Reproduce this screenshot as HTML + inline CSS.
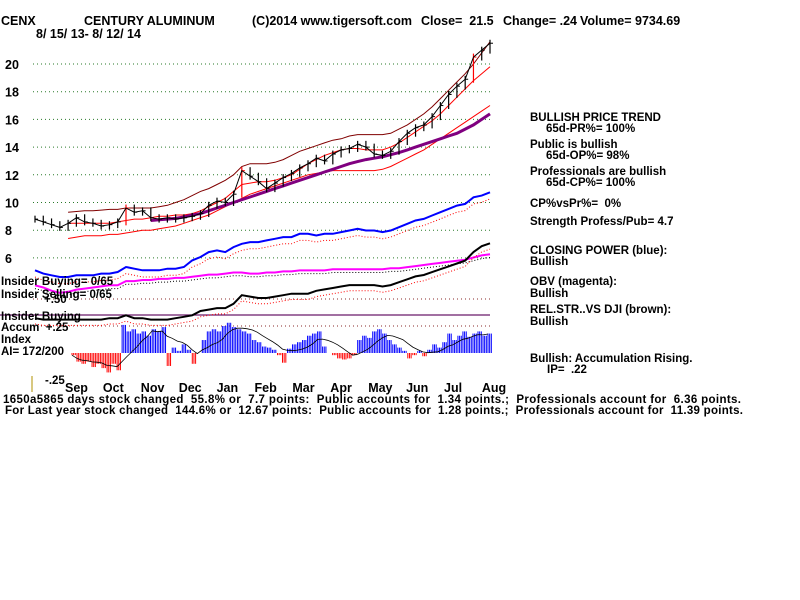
<!DOCTYPE html>
<html><head><meta charset="utf-8">
<style>
body{margin:0;background:#fff;}
svg{display:block;}
text{font-family:"Liberation Sans",sans-serif;font-weight:bold;font-size:11.5px;fill:#000;white-space:pre;}
</style></head>
<body>
<svg id="chart" width="800" height="600" viewBox="0 0 800 600" xmlns="http://www.w3.org/2000/svg" xml:space="preserve">
<rect width="800" height="600" fill="#fff"/>
<g>
<text x="1" y="25" style="font-size:12.5px">CENX</text>
<text x="84" y="25" style="font-size:12.5px">CENTURY ALUMINUM</text>
<text x="252" y="25" style="font-size:12.5px">(C)2014 www.tigersoft.com</text>
<text x="421" y="25" style="font-size:12.5px">Close=  21.5</text>
<text x="503" y="25" style="font-size:12.5px">Change= .24</text>
<text x="580" y="25" style="font-size:12.5px">Volume= 9734.69</text>
<text x="36" y="38" style="font-size:12.5px">8/ 15/ 13- 8/ 12/ 14</text>
</g>
<g id="grid"></g>
<g id="yticks"></g>
<g id="series"></g>
<g id="ai"></g>
<g id="months"></g>
<g>
<text x="1" y="285">Insider Buying= 0/65</text>
<text x="1" y="298">Insider Selling= 0/65</text>
<text x="44" y="303">+.50</text>
<text x="1" y="320">Insider Buying</text>
<text x="1" y="331">Accum  +.25</text>
<text x="1" y="343">Index</text>
<text x="1" y="355">AI= 172/200</text>
<text x="45" y="384">-.25</text>
<line x1="32" y1="376" x2="32" y2="392" stroke="#b09000"/>
</g>
<g>
<text x="530" y="121">BULLISH PRICE TREND</text>
<text x="546" y="132">65d-PR%= 100%</text>
<text x="530" y="148">Public is bullish</text>
<text x="546" y="159">65d-OP%= 98%</text>
<text x="530" y="175">Professionals are bullish</text>
<text x="546" y="186">65d-CP%= 100%</text>
<text x="530" y="207">CP%vsPr%=  0%</text>
<text x="530" y="225">Strength Profess/Pub= 4.7</text>
<text x="530" y="254">CLOSING POWER (blue):</text>
<text x="530" y="265">Bullish</text>
<text x="530" y="285">OBV (magenta):</text>
<text x="530" y="297">Bullish</text>
<text x="530" y="313">REL.STR..VS DJI (brown):</text>
<text x="530" y="325">Bullish</text>
<text x="530" y="362">Bullish: Accumulation Rising.</text>
<text x="547" y="373">IP=  .22</text>
</g>
<g>
<text x="3" y="403" textLength="738" lengthAdjust="spacing">1650a5865 days stock changed  55.8% or  7.7 points:  Public accounts for  1.34 points.;  Professionals account for  6.36 points.</text>
<text x="5" y="414" textLength="738" lengthAdjust="spacing">For Last year stock changed  144.6% or  12.67 points:  Public accounts for  1.28 points.;  Professionals account for  11.39 points.</text>
</g>
</svg>
<script>
const priceTicks=[20,18,16,14,12,10,8,6];
const months=["Sep","Oct","Nov","Dec","Jan","Feb","Mar","Apr","May","Jun","Jul","Aug"];
const closes=[8.8,8.6,8.4,8.2,8.5,8.9,8.6,8.5,8.3,8.4,8.6,9.6,9.3,9.4,8.9,8.8,8.9,8.8,8.9,9.0,9.2,9.8,10.1,10.0,10.6,12.3,11.9,11.5,11.0,11.4,11.8,12.1,12.5,12.8,13.2,13.0,13.5,13.8,13.9,14.2,14.0,13.5,13.4,13.7,14.4,15.0,15.4,15.6,16.2,17.0,17.8,18.4,18.9,20.5,21.0,21.5];
const upperBand=[null,null,null,null,9.3,9.35,9.4,9.4,9.45,9.5,9.5,9.6,9.6,9.6,9.6,9.7,9.8,10.0,10.2,10.5,10.8,11.0,11.3,11.6,12.0,12.6,12.8,12.8,12.8,12.9,13.1,13.4,13.7,13.9,14.1,14.3,14.5,14.6,14.8,14.9,14.9,14.9,14.9,15.0,15.3,15.6,16.0,16.4,16.9,17.5,18.1,18.7,19.3,20.0,20.8,21.6];
const midBand=[null,null,null,null,8.5,8.5,8.5,8.5,8.5,8.5,8.6,8.7,8.8,8.8,8.9,9.0,9.0,9.1,9.1,9.2,9.4,9.7,10.0,10.3,10.8,11.3,11.4,11.5,11.5,11.6,11.8,12.0,12.4,12.8,13.1,13.4,13.6,13.8,13.9,13.9,13.8,13.8,13.8,14.0,14.3,14.7,15.1,15.5,15.9,16.4,17.0,17.6,18.2,18.8,19.3,19.8];
const maLine=[null,null,null,null,null,null,null,null,null,null,null,null,null,null,8.7,8.75,8.8,8.85,8.95,9.1,9.2,9.4,9.6,9.8,10.0,10.2,10.4,10.6,10.8,11.0,11.2,11.4,11.6,11.8,12.0,12.2,12.4,12.6,12.8,12.95,13.1,13.2,13.3,13.45,13.6,13.8,14.0,14.2,14.4,14.6,14.8,15.0,15.3,15.6,16.0,16.4];
const lowerBand=[null,null,null,null,7.4,7.5,7.6,7.6,7.6,7.7,7.7,7.8,7.9,8.0,8.0,8.1,8.2,8.3,8.5,8.7,8.9,9.1,9.4,9.7,10.0,10.3,10.6,10.8,11.0,11.2,11.4,11.6,11.8,12.0,12.1,12.2,12.3,12.3,12.3,12.3,12.3,12.3,12.4,12.6,12.9,13.2,13.5,13.8,14.2,14.6,15.0,15.4,15.8,16.2,16.6,17.0];
const closingPower=[48,46,45,44,44,45,45,45,46,46,47,50,49,48,48,48,49,49,50,54,56,59,60,59,62,64,65,65,66,67,68,68,70,70,69,70,70,71,72,73,72,72,71,72,74,76,78,79,81,83,85,87,88,92,93,95];
const obv=[38,36,33,31,32,34,35,36,37,38,38,42,42,43,43,44,44,45,45,46,47,48,48,49,50,50,49,49,50,50,51,51,52,52,52,52,53,53,53,53,53,53,53,54,54,55,56,57,58,59,60,61,62,64,66,67];
const relStr=[20,19,19,19,19,19,19,19,19,20,20,22,20,20,19,19,19,20,21,22,25,26,27,27,30,36,35,34,34,35,36,37,37,37,39,40,41,42,43,43,43,43,42,43,45,47,49,50,52,54,56,58,60,66,70,72];
const aiValues=[-0.02,-0.08,-0.1,-0.08,-0.13,-0.1,-0.14,-0.18,-0.1,-0.16,0.26,0.2,0.22,0.18,0.2,0.16,0.22,0.2,0.24,-0.12,0.05,0.02,0.08,0.03,-0.1,0.0,0.12,0.2,0.22,0.2,0.25,0.28,0.24,0.22,0.2,0.18,0.12,0.1,0.06,0.05,0.03,-0.02,-0.09,0.04,0.08,0.1,0.12,0.16,0.18,0.2,0.06,0.0,-0.02,-0.05,-0.06,-0.05,-0.02,0.12,0.16,0.14,0.2,0.22,0.18,0.12,0.08,0.05,0.02,-0.05,-0.02,0.02,-0.03,0.03,0.08,0.05,0.1,0.18,0.12,0.16,0.2,0.15,0.18,0.2,0.16,0.18];

const NS='http://www.w3.org/2000/svg';
function mk(tag,attrs,parent){const e=document.createElementNS(NS,tag);for(const k in attrs)e.setAttribute(k,attrs[k]);parent.appendChild(e);return e;}
const X0=35,X1=490;
function xs(i,n){return X0+i*(X1-X0)/(n-1);}
function yPrice(v){return 64+(20-v)*13.85;}
function yInd(v,top,bot){return bot-(v/100)*(bot-top);}
const yCP=v=>yInd(v,184,350);
const yOBV=v=>yInd(v,219,326);
const yRS=v=>yInd(v,203,347);
const AI0=353,AIS=108;
function yAI(v){return AI0-v*AIS;}

const grid=document.getElementById('grid');
priceTicks.forEach(t=>{
  const l=mk('line',{x1:33,x2:490,y1:yPrice(t),y2:yPrice(t),stroke:'#2a7a2a','stroke-dasharray':'1,3','stroke-width':1},grid);
  
  
});
[yAI(0.5),yAI(0.25)].forEach(y=>{
  const l=mk('line',{x1:33,x2:490,y1:y,y2:y,stroke:'#8a2a2a','stroke-dasharray':'1,3'},grid);
  
  
});
const yt=document.getElementById('yticks');
priceTicks.forEach(t=>{
  const e=mk('text',{x:5,y:yPrice(t)+5,style:'font-size:12.5px'},yt);e.textContent=t;
  
  
});
const mg=document.getElementById('months');
months.forEach((m,i)=>{
  const e=mk('text',{x:65+i*37.9,y:392,style:'font-size:12.5px'},mg);e.textContent=m;
  
  
});

const sg=document.getElementById('series');
const hl=mk('line',{x1:0,x2:490,y1:315,y2:315,stroke:'#6a1a6a','stroke-width':1.2},sg);



function path(arr,yf,color,w,name,dash){
  let d='';let started=false;
  arr.forEach((v,i)=>{if(v==null)return;d+=(started?'L':'M')+xs(i,arr.length).toFixed(1)+','+yf(v).toFixed(1);started=true;});
  const p=mk('path',{d:d,fill:'none',stroke:color,'stroke-width':w},sg);
  if(dash)p.setAttribute('stroke-dasharray',dash);
  
  
  return p;
}
path(upperBand,yPrice,'#800000',1,'upper-band');
path(midBand,yPrice,'#ff0000',1,'middle-band');
path(lowerBand,yPrice,'#ff0000',1,'lower-band');
path(maLine,yPrice,'#800080',3,'moving-average');
closes.forEach((c,i)=>{
  const x=xs(i,closes.length);
  const prev=i>0?closes[i-1]:c;
  const hi=Math.max(c,prev)+0.25,lo=Math.min(c,prev)-0.25;
  const big=Math.abs(c-prev)>0.9;
  const b=mk('line',{x1:x,x2:x,y1:yPrice(hi),y2:yPrice(lo),stroke:big?'#ff0000':'#000','stroke-width':1.2},sg);
  
  
  const t=mk('line',{x1:x,x2:x+3,y1:yPrice(c),y2:yPrice(c),stroke:big?'#ff0000':'#000','stroke-width':1},sg);
  
  
});
path(closes,yPrice,'#000',1,'price-line');
path(closingPower.map(v=>v-4),yCP,'#ff0000',1,'closing-power-trend','1,2');
path(closingPower,yCP,'#0000ff',2,'closing-power-line');
path(obv.map(v=>v-3),yOBV,'#000',1,'obv-trend','1,2');
path(obv,yOBV,'#ff00ff',2,'obv-line');
path(relStr.map(v=>v-4),yRS,'#ff0000',1,'relstr-trend','1,2');
path(relStr,yRS,'#000',2,'relative-strength-line');

const ag=document.getElementById('ai');
const AX0=72,AX1=488;
function xa(i){return AX0+i*(AX1-AX0)/(aiValues.length-1);}
aiValues.forEach((v,i)=>{
  const x=xa(i);
  for(let k=0;k<3;k++){
    const xx=x+k*1.66;
    const b=mk('line',{x1:xx,x2:xx,y1:AI0,y2:yAI(v),stroke:v>=0?'#0000ff':'#ff0000','stroke-width':1},ag);
    
    
  }
});
let d='';
aiValues.forEach((v,i)=>{const s=aiValues.slice(Math.max(0,i-6),i+1);const m=s.reduce((a,b)=>a+b,0)/s.length;d+=(i?'L':'M')+xa(i).toFixed(1)+','+yAI(m).toFixed(1);});
const ma=mk('path',{d:d,fill:'none',stroke:'#000','stroke-width':0.8},ag);


</script>
</body></html>
